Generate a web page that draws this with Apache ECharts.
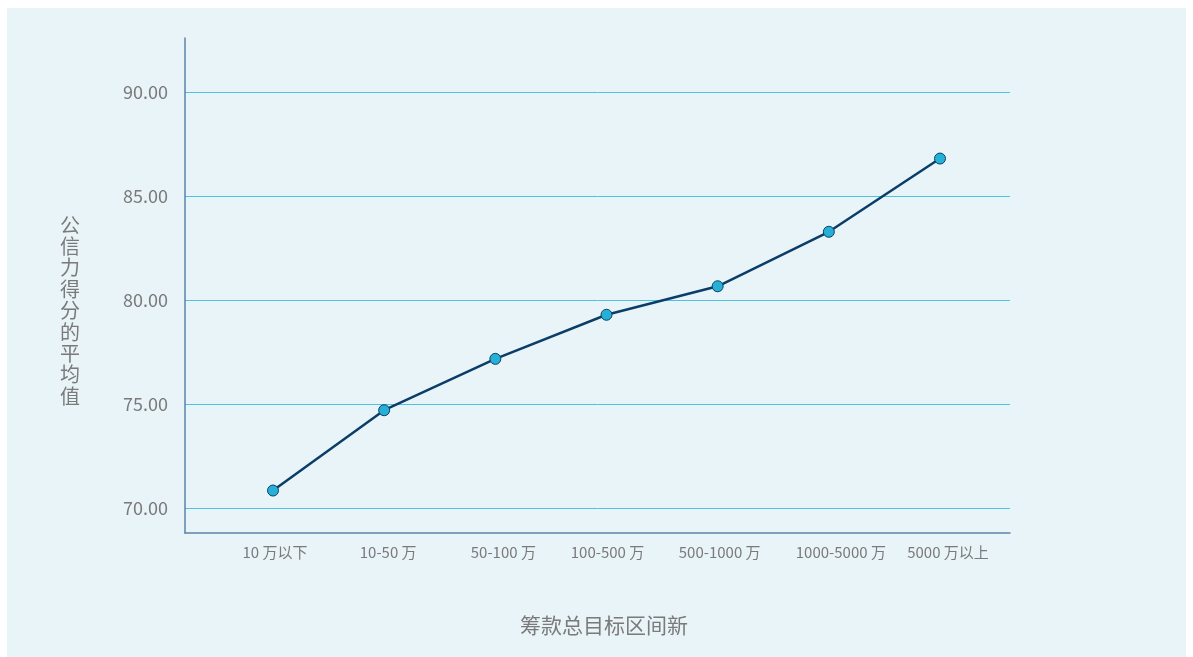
<!DOCTYPE html>
<html>
<head>
<meta charset="utf-8">
<script src="https://cdn.jsdelivr.net/npm/echarts@6/dist/echarts.min.js"></script>
<style>
html,body{margin:0;padding:0;background:#ffffff;}
#bg{position:absolute;left:7px;top:8px;width:1179px;height:649px;background:#E9F4F9;}
#chart{position:absolute;left:0;top:0;width:1193px;height:657px;}
</style>
</head>
<body>
<div id="bg"></div>
<div id="chart"></div>
<script>
var categories = ['10 万以下', '10-50 万', '50-100 万', '100-500 万', '500-1000 万', '1000-5000 万', '5000 万以上'];
var avgScores = [70.84, 74.7, 77.17, 79.29, 80.66, 83.28, 86.8];
var yMin = 70, yMax = 90, yStep = 5;
var xAxisTitle = '筹款总目标区间新';
var yAxisTitle = '公信力得分的平均值';

// small horizontal nudges (px) of the category labels, as in the reference layout
var labelNudge = [2, 4, 8, 1, 2, 12, 8];

var FONT = '"Noto Sans CJK SC", "Noto Sans", sans-serif';
var rich = {};
labelNudge.forEach(function (n, i) {
  rich['c' + i] = {fontSize: 15, color: '#7a7a7a', fontFamily: FONT, padding: [0, 0, 0, 2 * n]};
});

var chart = echarts.init(document.getElementById('chart'), null, {renderer: 'canvas'});
chart.setOption({
  backgroundColor: 'transparent',
  textStyle: {fontFamily: FONT},
  grid: [
    {left: 185, right: 183, top: 38, bottom: 124},
    {left: 185, right: 183, top: 92, bottom: 149},
    {left: 273, right: 253, top: 92, bottom: 149}
  ],
  xAxis: [
    {gridIndex: 0, type: 'category', data: [''],
     axisLine: {show: true, lineStyle: {color: '#5B84A6', width: 1.5}},
     axisTick: {show: false}, axisLabel: {show: false}, splitLine: {show: false},
     name: xAxisTitle, nameLocation: 'middle', nameGap: 82,
     nameTextStyle: {fontSize: 21, color: '#7a7a7a', fontFamily: FONT, padding: [0, 0, 0, 13]}},
    {gridIndex: 1, type: 'category', data: [''], show: false},
    {gridIndex: 2, type: 'category', data: categories, boundaryGap: false,
     axisLine: {show: false}, axisTick: {show: false}, splitLine: {show: false},
     axisLabel: {fontSize: 15, color: '#7a7a7a', margin: 37, fontFamily: FONT, interval: 0,
       formatter: function (v, i) { return '{c' + i + '|' + v + '}'; }, rich: rich}}
  ],
  yAxis: [
    {gridIndex: 0, type: 'value', min: 0, max: 1,
     axisLine: {show: true, lineStyle: {color: '#5B84A6', width: 1.5}},
     axisTick: {show: false}, axisLabel: {show: false}, splitLine: {show: false}},
    {gridIndex: 1, type: 'value', min: yMin, max: yMax, interval: yStep,
     axisLine: {show: false}, axisTick: {show: false},
     axisLabel: {fontSize: 18, color: '#7a7a7a', margin: 17, fontFamily: FONT,
       formatter: function (v) { return v.toFixed(2); }},
     splitLine: {show: true, lineStyle: {color: '#4DC3E0', width: 1}},
     name: '\n' + yAxisTitle.split('').join('\n'), nameLocation: 'middle', nameRotate: 0, nameGap: 105,
     nameTextStyle: {fontSize: 20, lineHeight: 21.4, color: '#7a7a7a', fontFamily: FONT}},
    {gridIndex: 2, type: 'value', min: yMin, max: yMax, show: false}
  ],
  series: [{
    type: 'line', xAxisIndex: 2, yAxisIndex: 2, data: avgScores,
    symbol: 'circle', symbolSize: 11,
    lineStyle: {color: '#0A3E68', width: 2.5},
    itemStyle: {color: '#27B0D6', borderColor: '#0A3E68', borderWidth: 1},
    emphasis: {disabled: true},
    animation: false
  }],
  animation: false
});
</script>
</body>
</html>
